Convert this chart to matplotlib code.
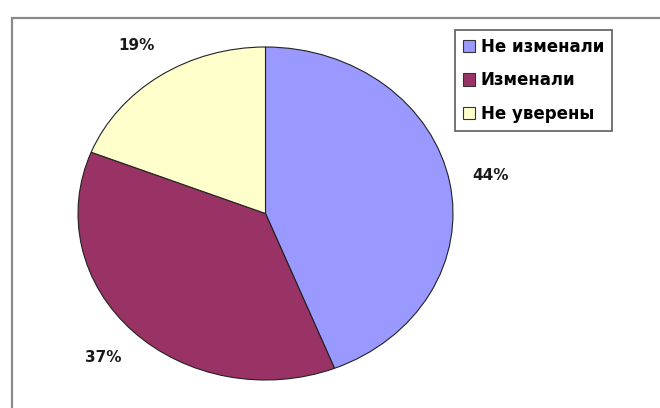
import matplotlib.pyplot as plt
from matplotlib.patches import Rectangle

labels = ['Не изменали', 'Изменали', 'Не уверены']
shares = [44, 37, 19]
colors = ['#9999FF', '#993366', '#FFFFCC']

fig = plt.figure(figsize=(6.6, 4.08), dpi=100)
fig.patch.set_facecolor('white')

# chart frame (cut off at right and bottom like the screenshot)
fig.patches.append(Rectangle((12 / 660, -0.05), 1.0, 1 - 18 / 408 + 0.05,
                             transform=fig.transFigure, fill=False,
                             edgecolor='#8a8a8a', linewidth=1.6))

ax = fig.add_axes([78 / 660, 28 / 408, 375 / 660, 333 / 408])
wedges, texts, autotexts = ax.pie(
    shares, colors=colors, startangle=90, counterclock=False,
    autopct='%1.0f%%', pctdistance=1.22,
    wedgeprops={'edgecolor': '#222222', 'linewidth': 0.8},
    textprops={'fontsize': 11, 'fontweight': 'bold', 'color': '#1a1a1a'})
ax.set_aspect('auto')
ax.set_xlim(-1, 1)
ax.set_ylim(-1, 1)
ax.axis('off')

leg = fig.legend(wedges, labels, loc='upper left',
                 bbox_to_anchor=(455 / 660, 1 - 30 / 408),
                 prop={'weight': 'bold', 'size': 12},
                 fancybox=False, frameon=True, edgecolor='#333333',
                 handlelength=0.75, handleheight=0.75, handletextpad=0.35,
                 labelspacing=0.95, borderpad=0.45, borderaxespad=0)
leg.get_frame().set_linewidth(1.2)
for h in leg.legend_handles:
    h.set_edgecolor('#333333')

fig.savefig('out.png', dpi=100)
